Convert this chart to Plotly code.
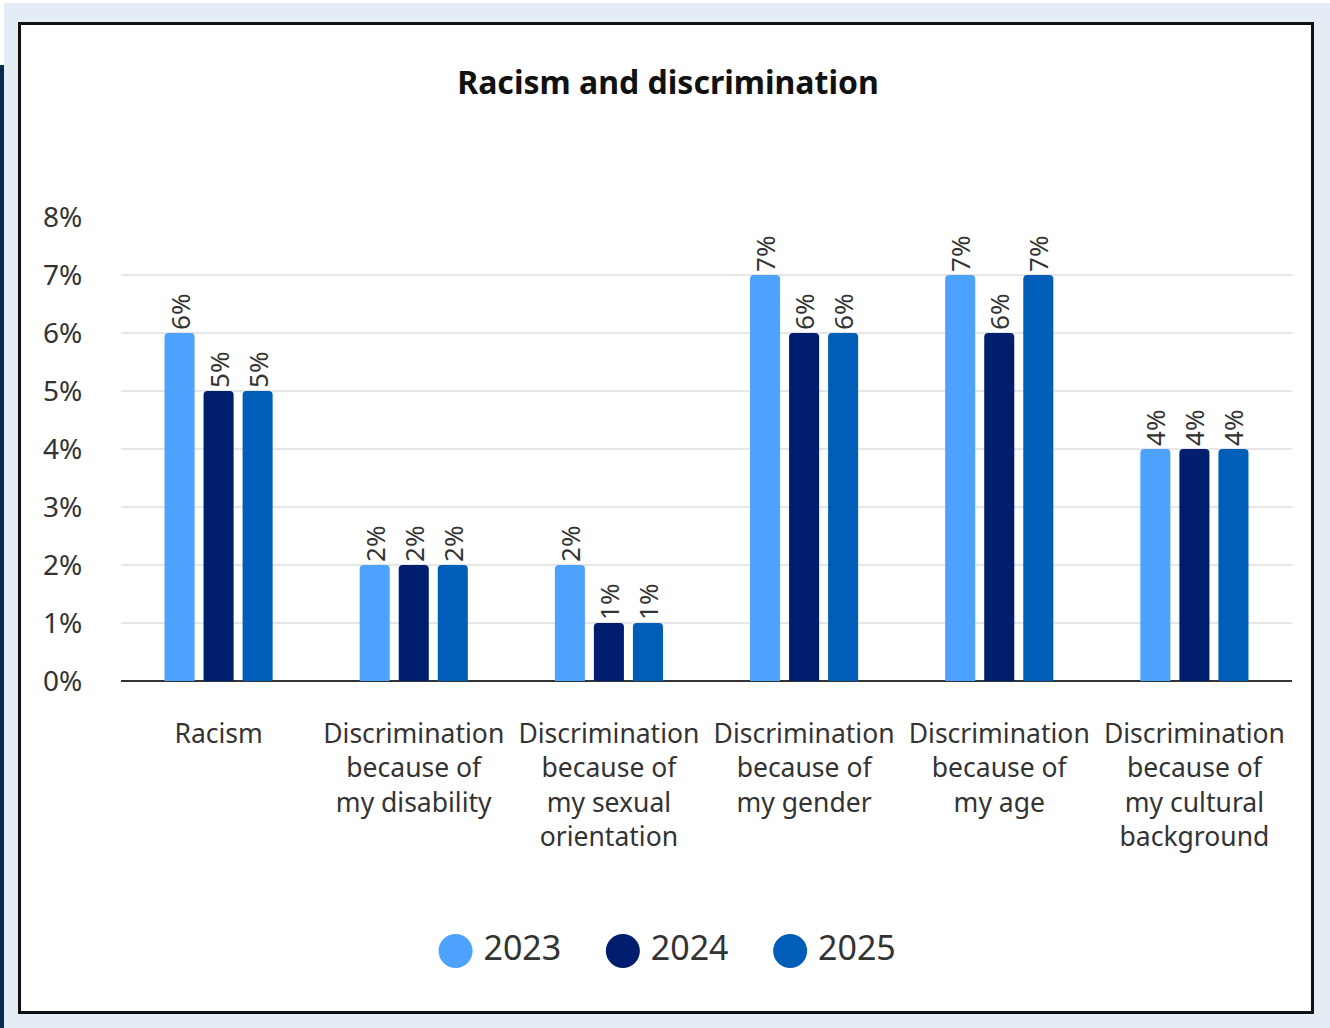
import plotly.graph_objects as go

categories = [
    "Racism",
    "Discrimination<br>because of<br>my disability",
    "Discrimination<br>because of<br>my sexual<br>orientation",
    "Discrimination<br>because of<br>my gender",
    "Discrimination<br>because of<br>my age",
    "Discrimination<br>because of<br>my cultural<br>background",
]
years = ["2023", "2024", "2025"]
values_2023 = [0.06, 0.02, 0.02, 0.07, 0.07, 0.04]
values_2024 = [0.05, 0.02, 0.01, 0.06, 0.06, 0.04]
values_2025 = [0.05, 0.02, 0.01, 0.06, 0.07, 0.04]
colors = ["#4DA1FF", "#001D6E", "#005EB8"]
y_ticks = [0, 0.01, 0.02, 0.03, 0.04, 0.05, 0.06, 0.07, 0.08]

FW, FH = 1330, 1028
ML, MR, MT, MB = 121, 38, 217, 60
PW = FW - ML - MR
PH = FH - MT - MB


def px_x(p):
    return (p - ML) / PW


def px_y(p):
    return (FH - MB - p) / PH


FONT = "Noto Sans, Open Sans, sans-serif"
TXT = "#333333"

fig = go.Figure()
series = [values_2023, values_2024, values_2025]
for name, vals, col in zip(years, series, colors):
    fig.add_trace(go.Bar(
        x=categories, y=vals, name=name,
        marker=dict(color=col, line=dict(width=0)),
        texttemplate="%{y:.0%}", textposition="outside", textangle=-90,
        constraintext="none",
        textfont=dict(family=FONT, size=26, color=TXT),
        cliponaxis=False, showlegend=False,
    ))

# custom legend with large round markers
fig.add_trace(go.Scatter(
    x=list(range(len(years))), y=[0] * len(years),
    mode="markers+text", text=["\u2009" + y for y in years], textposition="middle right",
    marker=dict(size=34, color=colors, line=dict(width=0)),
    textfont=dict(family=FONT, size=34, color=TXT),
    xaxis="x2", yaxis="y2", showlegend=False, hoverinfo="skip", cliponaxis=False,
))

main_bottom = px_y(681)
leg_c = px_y(951)

shapes = [
    dict(type="rect", xref="paper", yref="paper", x0=px_x(0), x1=px_x(FW), y0=px_y(3), y1=px_y(0),
         fillcolor="white", line=dict(width=0), layer="below"),
    dict(type="rect", xref="paper", yref="paper", x0=px_x(0), x1=px_x(4), y0=px_y(65), y1=px_y(0),
         fillcolor="white", line=dict(width=0), layer="below"),
    dict(type="rect", xref="paper", yref="paper", x0=px_x(0), x1=px_x(4), y0=px_y(FH), y1=px_y(65),
         fillcolor="#0B2A52", line=dict(width=0), layer="below"),
    dict(type="rect", xref="paper", yref="paper", x0=px_x(19.5), x1=px_x(1312.5),
         y0=px_y(1012.5), y1=px_y(23.5),
         fillcolor="white", line=dict(color="#111111", width=3), layer="below"),
]

fig.update_layout(
    width=FW, height=FH,
    margin=dict(l=ML, r=MR, t=MT, b=MB, autoexpand=False),
    paper_bgcolor="#E4ECF5", plot_bgcolor="rgba(0,0,0,0)",
    font=dict(family=FONT, color=TXT),
    title=dict(text="<b>Racism and discrimination</b>", x=668 / FW, xanchor="center",
               y=1 - 83 / FH, yanchor="middle", yref="container",
               font=dict(family=FONT, size=32, color="#111111")),
    barmode="group", bargap=0.4, bargroupgap=0.23, barcornerradius=4,
    uniformtext=dict(mode=False),
    xaxis=dict(domain=[0, 1], anchor="y", showgrid=False, showline=False, zeroline=False,
               ticks="outside", ticklen=29, tickcolor="rgba(0,0,0,0)",
               tickfont=dict(family=FONT, size=26.5, color=TXT)),
    yaxis=dict(domain=[main_bottom, 1], range=[0, 0.08], tickvals=y_ticks, tickformat=".0%",
               showgrid=True, gridcolor="#E6E6E6", gridwidth=1.5,
               zeroline=True, zerolinecolor="#333333", zerolinewidth=2,
               showline=False, ticks="outside", ticklen=32, tickcolor="rgba(0,0,0,0)",
               tickfont=dict(family=FONT, size=28, color=TXT)),
    xaxis2=dict(domain=[0, 1], anchor="y2", range=[-2, 5], visible=False, fixedrange=True),
    yaxis2=dict(domain=[leg_c - 0.02, leg_c + 0.02], anchor="x2", range=[-1, 1], visible=False,
                fixedrange=True),
    shapes=shapes,
)

fig.write_html("out.html", config={"displayModeBar": False},
               post_script="document.body.style.margin='0';")
